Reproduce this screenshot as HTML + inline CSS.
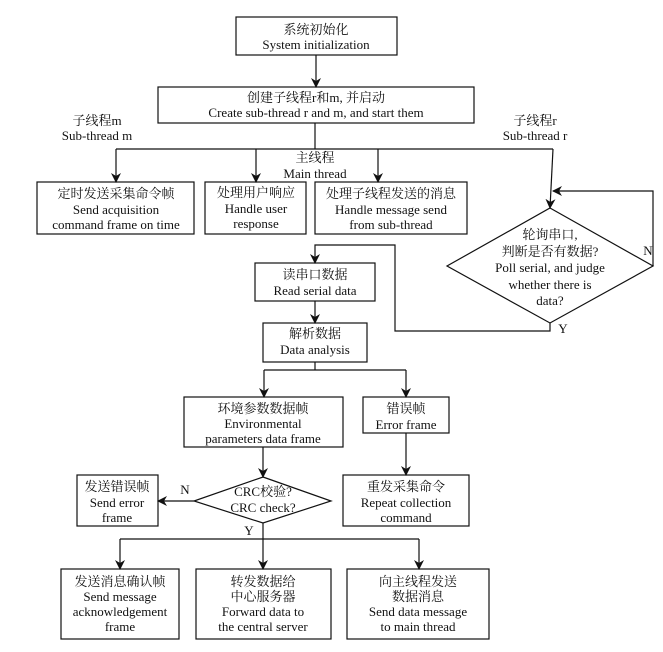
<!DOCTYPE html>
<html><head><meta charset="utf-8"><style>
html,body{margin:0;padding:0;background:#fff;}
svg{display:block;}
text{font-family:"Liberation Serif","Noto Serif CJK SC",serif;font-size:13px;fill:#111;text-anchor:middle;}
</style></head><body>
<svg width="663" height="652" viewBox="0 0 663 652" xmlns="http://www.w3.org/2000/svg">
<defs>
<marker id="a" markerWidth="10" markerHeight="10" refX="9" refY="5" orient="auto" markerUnits="userSpaceOnUse">
<path d="M0,0 L10,5 L0,10 L3,5 Z" fill="#111"/>
</marker>
</defs>
<g fill="none" stroke="#111" stroke-width="1.2">
<rect x="236" y="17" width="161" height="38"/>
<rect x="158" y="87" width="316" height="36"/>
<rect x="37" y="182" width="157" height="52"/>
<rect x="205" y="182" width="101" height="52"/>
<rect x="315" y="182" width="152" height="52"/>
<polygon points="550,208 653,266 550,323 447,266"/>
<rect x="255" y="263" width="120" height="38"/>
<rect x="263" y="323" width="104" height="39"/>
<rect x="184" y="397" width="159" height="50"/>
<rect x="363" y="397" width="86" height="36"/>
<rect x="343" y="475" width="126" height="51"/>
<polygon points="263,477 331,501 263,523 194,501"/>
<rect x="77" y="475" width="81" height="51"/>
<rect x="61" y="569" width="118" height="70"/>
<rect x="196" y="569" width="135" height="70"/>
<rect x="347" y="569" width="142" height="70"/>

<line x1="316" y1="55" x2="316" y2="87" marker-end="url(#a)"/>
<line x1="315" y1="123" x2="315" y2="149"/>
<line x1="116" y1="149" x2="553" y2="149"/>
<line x1="116" y1="149" x2="116" y2="182" marker-end="url(#a)"/>
<line x1="256" y1="149" x2="256" y2="182" marker-end="url(#a)"/>
<line x1="378" y1="149" x2="378" y2="182" marker-end="url(#a)"/>
<line x1="553" y1="149" x2="550" y2="208" marker-end="url(#a)"/>
<polyline points="653,266 653,191 553,191" marker-end="url(#a)"/>
<polyline points="550,323 550,331 395,331 395,245 315,245 315,263" marker-end="url(#a)"/>
<line x1="315" y1="301" x2="315" y2="323" marker-end="url(#a)"/>
<line x1="315" y1="362" x2="315" y2="370"/>
<line x1="264" y1="370" x2="406" y2="370"/>
<line x1="264" y1="370" x2="264" y2="397" marker-end="url(#a)"/>
<line x1="406" y1="370" x2="406" y2="397" marker-end="url(#a)"/>
<line x1="406" y1="433" x2="406" y2="475" marker-end="url(#a)"/>
<line x1="263" y1="447" x2="263" y2="477" marker-end="url(#a)"/>
<line x1="194" y1="501" x2="158" y2="501" marker-end="url(#a)"/>
<line x1="263" y1="523" x2="263" y2="539"/>
<line x1="120" y1="539" x2="419" y2="539"/>
<line x1="120" y1="539" x2="120" y2="569" marker-end="url(#a)"/>
<line x1="263" y1="539" x2="263" y2="569" marker-end="url(#a)"/>
<line x1="419" y1="539" x2="419" y2="569" marker-end="url(#a)"/>
</g>

<text x="316" y="34">系统初始化</text>
<text x="316" y="49">System initialization</text>
<text x="316" y="102">创建子线程r和m, 并启动</text>
<text x="316" y="117">Create sub-thread r and m, and start them</text>
<text x="97" y="125">子线程m</text>
<text x="97" y="140">Sub-thread m</text>
<text x="535" y="125">子线程r</text>
<text x="535" y="140">Sub-thread r</text>
<text x="315" y="162">主线程</text>
<text x="315" y="178">Main thread</text>
<text x="116" y="198">定时发送采集命令帧</text>
<text x="116" y="214">Send acquisition</text>
<text x="116" y="229">command frame on time</text>
<text x="256" y="197">处理用户响应</text>
<text x="256" y="213">Handle user</text>
<text x="256" y="228">response</text>
<text x="391" y="198">处理子线程发送的消息</text>
<text x="391" y="214">Handle message send</text>
<text x="391" y="229">from sub-thread</text>
<text x="550" y="239">轮询串口,</text>
<text x="550" y="256">判断是否有数据?</text>
<text x="550" y="272">Poll serial, and judge</text>
<text x="550" y="289">whether there is</text>
<text x="550" y="305">data?</text>
<text x="648" y="255">N</text>
<text x="563" y="333">Y</text>
<text x="315" y="279">读串口数据</text>
<text x="315" y="295">Read serial data</text>
<text x="315" y="338">解析数据</text>
<text x="315" y="354">Data analysis</text>
<text x="263" y="413">环境参数数据帧</text>
<text x="263" y="428">Environmental</text>
<text x="263" y="443">parameters data frame</text>
<text x="406" y="413">错误帧</text>
<text x="406" y="429">Error frame</text>
<text x="263" y="496">CRC校验?</text>
<text x="263" y="512">CRC check?</text>
<text x="185" y="494">N</text>
<text x="249" y="535">Y</text>
<text x="117" y="491">发送错误帧</text>
<text x="117" y="507">Send error</text>
<text x="117" y="522">frame</text>
<text x="406" y="491">重发采集命令</text>
<text x="406" y="507">Repeat collection</text>
<text x="406" y="522">command</text>
<text x="120" y="586">发送消息确认帧</text>
<text x="120" y="601">Send message</text>
<text x="120" y="616">acknowledgement</text>
<text x="120" y="631">frame</text>
<text x="263" y="586">转发数据给</text>
<text x="263" y="601">中心服务器</text>
<text x="263" y="616">Forward data to</text>
<text x="263" y="631">the central server</text>
<text x="418" y="586">向主线程发送</text>
<text x="418" y="601">数据消息</text>
<text x="418" y="616">Send data message</text>
<text x="418" y="631">to main thread</text>
</svg>
</body></html>
